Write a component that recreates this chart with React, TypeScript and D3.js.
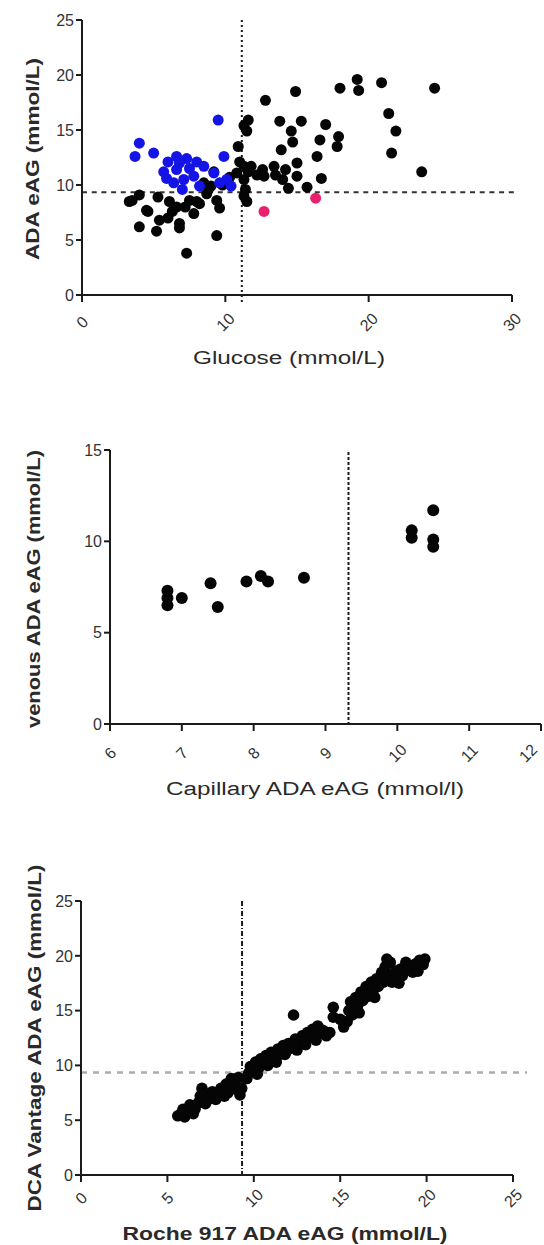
import * as d3 from "d3";

// panel 1: glucose vs ADA eAG
const glucoseBlack: [number, number][] = [
  [7.3, 3.8], [9.4, 5.4], [4.0, 6.2], [5.2, 5.8], [4.6, 7.6], [3.3, 8.5], [4.0, 9.1], [5.3, 8.9],
  [6.0, 7.0], [6.8, 6.1], [6.6, 8.0], [7.8, 7.4], [8.0, 8.5], [8.7, 9.2], [9.4, 8.6], [9.6, 7.9],
  [9.0, 9.9], [8.5, 10.2], [9.2, 11.2], [5.4, 6.8], [7.2, 8.0], [6.1, 8.5], [6.3, 7.6], [7.5, 8.6],
  [8.2, 8.3], [6.8, 6.5], [3.5, 8.6], [4.5, 7.7], [11.3, 15.4], [11.6, 15.9], [11.5, 14.9],
  [10.9, 13.5], [11.0, 12.1], [11.3, 11.7], [11.6, 11.2], [11.3, 10.5], [11.4, 9.6], [11.5, 8.5],
  [10.8, 11.1], [10.1, 10.2], [12.8, 17.7], [14.9, 18.5], [18.0, 18.8], [19.2, 19.6], [19.3, 18.6],
  [20.9, 19.3], [24.6, 18.8], [21.4, 16.5], [21.9, 14.9], [21.6, 12.9], [23.7, 11.2], [13.8, 15.8],
  [15.3, 15.8], [14.6, 14.9], [14.7, 13.9], [17.0, 15.5], [16.6, 14.1], [17.9, 14.4], [17.8, 13.5],
  [13.9, 13.2], [16.4, 12.6], [16.7, 10.6], [12.6, 11.4], [13.4, 11.7], [14.2, 11.4], [15.0, 12.0],
  [12.7, 10.8], [14.0, 10.5], [14.4, 9.7], [15.7, 9.8], [11.8, 11.7], [12.2, 10.9], [13.5, 10.9],
  [15.0, 10.8], [11.3, 9.0], [10.3, 10.7], [9.8, 10.0], [8.8, 9.6],
];
const glucoseBlue: [number, number][] = [
  [9.5, 15.9], [4.0, 13.8], [3.7, 12.6], [5.0, 12.9], [6.0, 12.1], [6.6, 12.6], [7.3, 12.4],
  [8.0, 12.1], [5.7, 11.2], [6.6, 11.4], [7.5, 11.5], [8.5, 11.7], [6.4, 10.2], [7.1, 10.5],
  [7.8, 10.8], [9.2, 11.1], [9.9, 12.6], [10.1, 10.5], [10.4, 9.9], [9.6, 10.2], [8.2, 9.9],
  [6.8, 12.0], [5.9, 10.6], [7.0, 9.6],
];
const glucosePink: [number, number][] = [[12.7, 7.6], [16.3, 8.8]];

// panel 2: capillary vs venous
const capillaryVenous: [number, number][] = [
  [6.8, 7.3], [6.8, 6.9], [6.8, 6.5], [7.0, 6.9], [7.4, 7.7], [7.5, 6.4], [7.9, 7.8], [8.1, 8.1],
  [8.2, 7.8], [8.7, 8.0], [10.2, 10.6], [10.2, 10.2], [10.5, 11.7], [10.5, 10.1], [10.5, 9.7],
];

// panel 3: Roche 917 vs DCA Vantage
const rocheDca: [number, number][] = [
  [5.6, 5.4], [5.8, 5.6], [6.0, 5.3], [5.9, 6.0], [6.2, 5.8], [6.3, 6.4], [6.6, 6.0], [6.8, 6.6],
  [6.9, 7.2], [7.0, 7.9], [7.2, 7.4], [7.3, 6.8], [7.5, 7.1], [7.6, 7.6], [7.8, 6.9], [8.0, 7.4],
  [8.1, 7.9], [8.3, 7.2], [8.4, 8.3], [8.6, 8.0], [8.7, 8.8], [8.9, 8.4], [9.0, 7.8], [9.1, 8.9],
  [9.2, 7.3], [9.3, 7.9], [9.6, 8.8], [9.7, 9.3], [9.8, 9.9], [10.0, 9.5], [10.1, 10.3], [10.3, 9.8],
  [10.4, 10.6], [10.6, 10.1], [10.7, 10.9], [10.9, 10.4], [11.0, 11.2], [11.2, 10.8], [11.4, 11.5],
  [11.5, 11.0], [11.7, 11.8], [11.9, 11.3], [12.0, 12.0], [12.2, 11.6], [12.3, 14.6], [12.4, 12.4],
  [12.6, 12.0], [12.8, 12.7], [12.9, 12.2], [13.1, 13.0], [13.2, 12.5], [13.4, 13.3], [13.5, 12.8],
  [13.7, 13.6], [13.8, 12.9], [14.0, 13.2], [14.2, 12.7], [14.4, 13.0], [14.6, 15.3], [14.6, 14.4],
  [15.2, 13.5], [15.4, 14.0], [15.5, 15.0], [15.6, 15.8], [15.7, 14.6], [15.9, 16.2], [16.0, 15.4],
  [16.2, 16.7], [16.3, 15.9], [16.5, 17.2], [16.6, 16.3], [16.8, 17.6], [16.9, 16.8], [17.1, 17.9],
  [17.2, 17.2], [17.4, 18.5], [17.5, 17.6], [17.6, 19.0], [17.7, 19.7], [17.8, 18.2], [17.9, 19.4],
  [18.0, 17.6], [18.2, 18.6], [18.3, 17.9], [18.5, 18.8], [18.6, 18.2], [18.8, 19.4], [18.9, 18.7],
  [19.1, 19.1], [19.2, 18.5], [19.4, 19.3], [19.6, 19.6], [19.8, 19.2], [19.9, 19.7],
  [6.5, 5.6], [7.2, 6.5], [8.5, 7.5], [10.2, 9.2], [10.8, 10.0], [11.3, 10.3], [11.8, 11.0],
  [12.5, 11.4], [13.0, 11.9], [13.6, 12.3], [15.0, 14.2], [16.1, 14.8], [17.0, 16.2], [18.4, 17.5],
  [19.5, 18.6],
];

const glucoseXTicks = [0, 10, 20, 30];
const glucoseYTicks = [0, 5, 10, 15, 20, 25];
const capXTicks = [6, 7, 8, 9, 10, 11, 12];
const capYTicks = [0, 5, 10, 15];
const rocheXTicks = [0, 5, 10, 15, 20, 25];
const rocheYTicks = [0, 5, 10, 15, 20, 25];

const FONT = "'Liberation Sans', Arial, sans-serif";
const INK = "#1a1a1a";

type AxisProps = {
  x: d3.ScaleLinear<number, number>;
  y: d3.ScaleLinear<number, number>;
  xTicks: number[];
  yTicks: number[];
  labelY: number;
};

const Axes = ({ x, y, xTicks, yTicks, labelY }: AxisProps) => {
  const [x0, x1] = x.range();
  const [y0, y1] = y.range();
  return (
    <g>
      <line x1={x0} x2={x0} y1={y0 + 1} y2={y1} stroke={INK} strokeWidth={2} />
      <line x1={x0} x2={x1} y1={y0} y2={y0} stroke={INK} strokeWidth={2} />
      {yTicks.map((t) => (
        <g key={"y" + t}>
          <line x1={x0 - 6} x2={x0} y1={y(t)} y2={y(t)} stroke={INK} strokeWidth={2} />
          <text x={x0 - 8} y={y(t)} dy="0.36em" textAnchor="end" fontSize={16} fontFamily={FONT} fill="#333">
            {t}
          </text>
        </g>
      ))}
      {xTicks.map((t) => (
        <g key={"x" + t}>
          <line x1={x(t)} x2={x(t)} y1={y0} y2={y0 + 7} stroke={INK} strokeWidth={2} />
          <text
            transform={`translate(${Math.min(x(t), 528)},${labelY}) rotate(-45)`}
            textAnchor="middle"
            dy="0.36em"
            fontSize={16}
            fontFamily={FONT}
            fill="#333"
          >
            {t}
          </text>
        </g>
      ))}
    </g>
  );
};

const Dots = ({ data, x, y, r, fill }: { data: [number, number][]; x: any; y: any; r: number; fill: string }) => (
  <g>
    {data.map((d, i) => (
      <circle key={i} cx={x(d[0])} cy={y(d[1])} r={r} fill={fill} />
    ))}
  </g>
);

const YTitle = ({ cx, cy, len, text }: { cx: number; cy: number; len: number; text: string }) => (
  <text
    transform={`translate(${cx},${cy}) rotate(-90)`}
    textAnchor="middle"
    dy="0.36em"
    fontSize={18}
    fontWeight="bold"
    fontFamily={FONT}
    fill="#2a2a2a"
    textLength={len}
    lengthAdjust="spacingAndGlyphs"
  >
    {text}
  </text>
);

const XTitle = ({ cx, y, len, text, bold }: { cx: number; y: number; len: number; text: string; bold?: boolean }) => (
  <text
    x={cx - len / 2}
    y={y}
    fontSize={18}
    fontWeight={bold ? "bold" : "normal"}
    fontFamily={FONT}
    fill="#2a2a2a"
    textLength={len}
    lengthAdjust="spacingAndGlyphs"
  >
    {text}
  </text>
);

export default function App() {
  // panel 1
  const x1 = d3.scaleLinear().domain([0, 30]).range([82, 512]);
  const y1 = d3.scaleLinear().domain([0, 25]).range([295, 20]);
  // panel 2
  const x2 = d3.scaleLinear().domain([6, 12]).range([110, 541]);
  const y2 = d3.scaleLinear().domain([0, 15]).range([724, 450]);
  // panel 3
  const x3 = d3.scaleLinear().domain([0, 25]).range([81, 513]);
  const y3 = d3.scaleLinear().domain([0, 25]).range([1175, 901]);

  return (
    <svg
      width={544}
      height={1245}
      style={{ position: "absolute", left: 0, top: 0, background: "#fff" }}
    >
      {/* panel 1 */}
      <line x1={x1(11.15)} x2={x1(11.15)} y1={20} y2={303} stroke={INK} strokeWidth={2} strokeDasharray="2 3" />
      <line x1={x1(0)} x2={517} y1={y1(9.35)} y2={y1(9.35)} stroke="#333" strokeWidth={2} strokeDasharray="5 4.7" />
      <Dots data={glucoseBlack} x={x1} y={y1} r={5.5} fill="#050505" />
      <Dots data={glucoseBlue} x={x1} y={y1} r={5.5} fill="#1414e6" />
      <Dots data={glucosePink} x={x1} y={y1} r={5.5} fill="#e8206e" />
      <Axes x={x1} y={y1} xTicks={glucoseXTicks} yTicks={glucoseYTicks} labelY={322} />
      <YTitle cx={33} cy={159} len={202} text="ADA eAG (mmol/L)" />
      <XTitle cx={289} y={364} len={192} text="Glucose (mmol/L)" />

      {/* panel 2 */}
      <line x1={x2(9.32)} x2={x2(9.32)} y1={452} y2={y2(0)} stroke={INK} strokeWidth={2} strokeDasharray="3 2" />
      <Dots data={capillaryVenous} x={x2} y={y2} r={6} fill="#050505" />
      <Axes x={x2} y={y2} xTicks={capXTicks} yTicks={capYTicks} labelY={753} />
      <YTitle cx={34} cy={589} len={278} text="venous ADA eAG (mmol/L)" />
      <XTitle cx={315} y={795} len={298} text="Capillary ADA eAG (mmol/l)" />

      {/* panel 3 */}
      <line x1={x3(9.32)} x2={x3(9.32)} y1={901} y2={y3(0)} stroke={INK} strokeWidth={2} strokeDasharray="5 2 1 2" />
      <line x1={x3(0)} x2={527} y1={y3(9.36)} y2={y3(9.36)} stroke="#aaa" strokeWidth={2.5} strokeDasharray="6 6" />
      <Dots data={rocheDca} x={x3} y={y3} r={5.8} fill="#050505" />
      <Axes x={x3} y={y3} xTicks={rocheXTicks} yTicks={rocheYTicks} labelY={1198} />
      <YTitle cx={35} cy={1038} len={347} text="DCA Vantage ADA eAG (mmol/L)" />
      <XTitle cx={285} y={1240} len={325} text="Roche 917 ADA eAG (mmol/L)" bold />
    </svg>
  );
}
